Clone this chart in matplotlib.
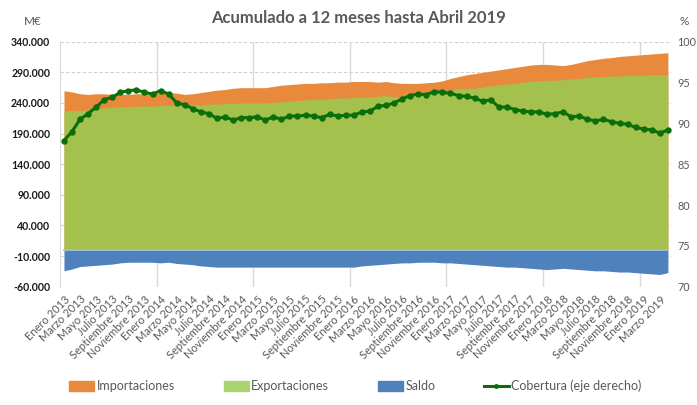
import matplotlib.pyplot as plt
import numpy as np
from matplotlib.patches import Patch
from matplotlib.lines import Line2D

plt.rcParams['font.family'] = ['Lato', 'DejaVu Sans']

meses = ['Enero', 'Febrero', 'Marzo', 'Abril', 'Mayo', 'Junio', 'Julio',
         'Agosto', 'Septiembre', 'Octubre', 'Noviembre', 'Diciembre']
anios = [2013, 2014, 2015, 2016, 2017, 2018, 2019]
fechas = [f'{m} {a}' for a in anios for m in meses][:76]

# M€, acumulado 12 meses
importaciones = [260000, 258000, 255000, 254000, 255000, 255000, 254000, 254000, 254000, 255000,
                 255000, 255000, 256000, 257000, 256000, 254000, 255000, 257000, 259000, 261000,
                 262000, 264000, 265000, 265000, 265000, 265000, 267000, 269000, 270000, 271000,
                 272000, 272000, 273000, 273000, 274000, 274000, 275000, 275000, 275000, 274000,
                 275000, 273000, 272000, 272000, 272000, 273000, 274000, 276000, 280000, 283000,
                 286000, 288000, 290000, 292000, 294000, 296000, 298000, 300000, 302000, 303000,
                 303000, 302000, 301000, 303000, 306000, 309000, 311000, 313000, 314000, 316000,
                 317000, 318000, 319000, 320000, 321000, 322000]
exportaciones = [227000, 228000, 228000, 229000, 231000, 232000, 233000, 234000, 234000, 235000,
                 235000, 235000, 236000, 236000, 236000, 236000, 237000, 237000, 238000, 238000,
                 239000, 239000, 240000, 240000, 240000, 240000, 241000, 242000, 243000, 244000,
                 245000, 246000, 246000, 247000, 248000, 248000, 249000, 249000, 250000, 251000,
                 252000, 250000, 251000, 252000, 253000, 254000, 256000, 258000, 261000, 264000,
                 264000, 264000, 266000, 268000, 270000, 271000, 272000, 274000, 275000, 276000,
                 277000, 277000, 278000, 279000, 280000, 282000, 283000, 283000, 284000, 284000,
                 285000, 285000, 285000, 286000, 286000, 286000]
saldo = [-34000, -31000, -27000, -26000, -25000, -24000, -23000, -21000, -20000, -20000,
         -20000, -20000, -21000, -20000, -22000, -23000, -24000, -26000, -27000, -28000,
         -28000, -28000, -28000, -28000, -28000, -28000, -28000, -28000, -28000, -28000,
         -28000, -28000, -28000, -28000, -28000, -28000, -28000, -26000, -25000, -24000,
         -23000, -22000, -21000, -21000, -20000, -20000, -20000, -21000, -21000, -22000,
         -23000, -24000, -25000, -26000, -27000, -28000, -28000, -29000, -30000, -31000,
         -32000, -31000, -30000, -31000, -32000, -33000, -34000, -34000, -35000, -36000,
         -36000, -37000, -38000, -39000, -40000, -37000]
# %
cobertura = [87.9, 89.0, 90.5, 91.2, 92.0, 92.9, 93.2, 93.8, 94.0, 94.1,
             93.8, 93.6, 94.0, 93.6, 92.5, 92.3, 91.8, 91.4, 91.2, 90.6,
             90.8, 90.4, 90.7, 90.7, 90.8, 90.4, 90.8, 90.5, 90.9, 90.9,
             91.0, 90.9, 90.7, 91.1, 90.9, 91.0, 91.0, 91.4, 91.5, 92.1,
             92.2, 92.5, 93.0, 93.4, 93.6, 93.5, 93.9, 93.8, 93.7, 93.4,
             93.3, 93.1, 92.7, 92.9, 92.0, 92.0, 91.7, 91.5, 91.4, 91.4,
             91.1, 91.2, 91.4, 90.8, 90.9, 90.5, 90.3, 90.5, 90.2, 90.0,
             89.9, 89.5, 89.3, 89.2, 88.8, 89.2]

c_imp = '#E8893C'
c_exp = '#A5C14D'
c_sal = '#4F81BD'
c_cob = '#0A6E0A'
gris = '#595959'

x = np.arange(len(fechas))

fig = plt.figure(figsize=(6.97, 4.05), dpi=100)
ax = fig.add_axes([0.086, 0.292, 0.878, 0.605])

ax.fill_between(x, 0, importaciones, color=c_imp, lw=0, zorder=2)
ax.fill_between(x, 0, exportaciones, color=c_exp, lw=0, zorder=2)
ax.fill_between(x, 0, saldo, color=c_sal, lw=0, zorder=2)
ax.plot([0, len(x) - 1], [0, 0], color='#A3BEDF', lw=1.3, zorder=3)

ax.set_xlim(-0.5, len(x) - 0.5)
ax.set_ylim(-60000, 340000)
ax.set_yticks(np.arange(-60000, 340001, 50000))
ax.set_yticklabels([f'{v:,.0f}'.replace(',', '.') for v in ax.get_yticks()],
                   fontsize=7.6, fontweight='bold', color='#1a1a1a')
ax.yaxis.grid(True, ls=(0, (3, 2)), color='#D0D0D0', lw=0.8)
ax.set_axisbelow(True)
for xv in np.arange(11.5, len(x), 12):
    ax.axvline(xv, color='#D9D9D9', lw=1, zorder=1)
for s in ['top', 'right', 'bottom']:
    ax.spines[s].set_visible(False)
ax.spines['left'].set_color('#D9D9D9')
ax.tick_params(axis='y', length=0, pad=7)
ax.tick_params(axis='x', length=0, pad=5)

ax.set_xticks(x[::2])
ax.set_xticklabels(fechas[::2], rotation=45, ha='right', rotation_mode='anchor',
                   fontsize=8, color=gris)

ax2 = ax.twinx()
ax2.plot(x, cobertura, color=c_cob, lw=2.2, marker='o', ms=3.6, zorder=5)
ax2.set_ylim(70, 100)
ax2.set_yticks(np.arange(70, 101, 5))
ax2.tick_params(axis='y', length=0, pad=4, labelsize=7.8, labelcolor=gris)
for s in ax2.spines.values():
    s.set_visible(False)

fig.text(0.515, 0.955, 'Acumulado a 12 meses hasta Abril 2019', ha='center', va='center',
         fontsize=12, fontweight='bold', color=gris)
fig.text(0.047, 0.948, 'M€', ha='center', va='center', fontsize=8.5, color=gris)
fig.text(0.981, 0.948, '%', ha='center', va='center', fontsize=8.5, color=gris)

handles = [Patch(color=c_imp), Patch(color='#A9D46F'), Patch(color=c_sal),
           Line2D([], [], color=c_cob, lw=2.2, marker='o', ms=2.5)]
labels = ['Importaciones', 'Exportaciones', 'Saldo', 'Cobertura (eje derecho)']
fig.legend(handles, labels, loc='center', bbox_to_anchor=(0.51, 0.047),
           bbox_transform=fig.transFigure, ncol=4,
           frameon=False, fontsize=9, labelcolor=gris, handlelength=2.0,
           handleheight=0.8, handletextpad=0.2, columnspacing=3.9)

fig.savefig('out.png', dpi=100)
